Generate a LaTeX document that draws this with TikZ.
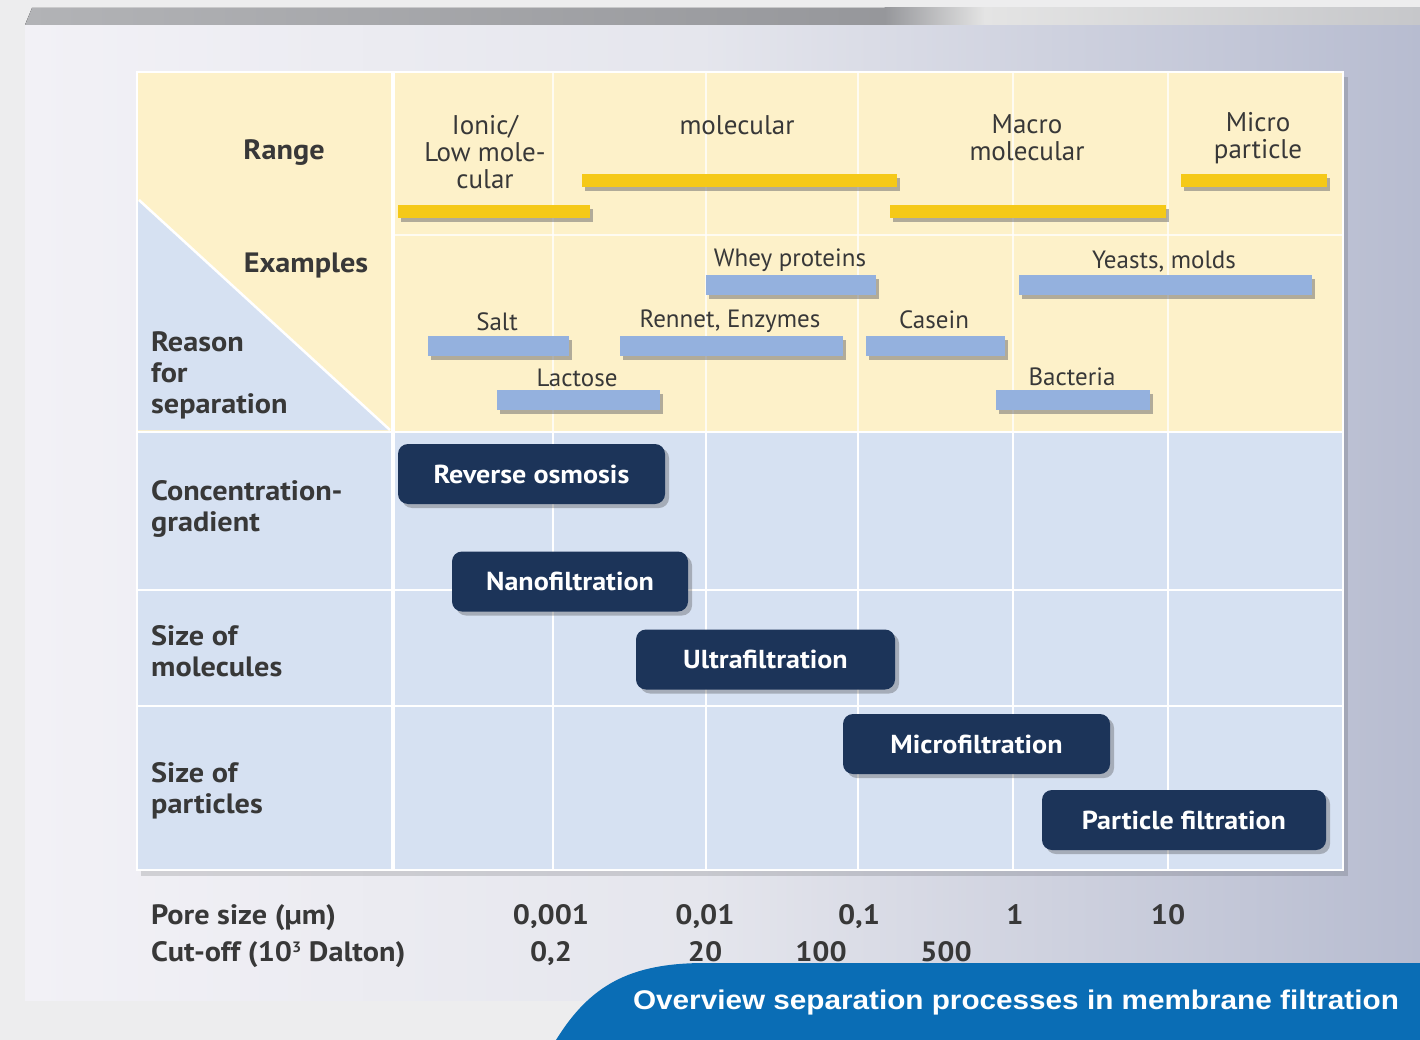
\documentclass[tikz,border=0pt]{standalone}
\usepackage{fontspec}
\setmainfont{PT Sans}
\newfontfamily\widefont[FakeStretch=1.08]{PT Sans}
\newfontfamily\bannerfont[FakeStretch=1.1]{Liberation Sans}
\usetikzlibrary{shadows}

\definecolor{bgout}{HTML}{EDEDEE}
\definecolor{panelL}{HTML}{F2F1F6}
\definecolor{panelM}{HTML}{E5E6ED}
\definecolor{panelR}{HTML}{B7BCD0}
\definecolor{topA}{HTML}{B2B3B6}
\definecolor{topB}{HTML}{96979B}
\definecolor{topC}{HTML}{E4E4E4}
\definecolor{topD}{HTML}{C6C7CA}
\definecolor{yel}{HTML}{FDF1C9}
\definecolor{blu}{HTML}{D6E1F2}
\definecolor{barY}{HTML}{F5C918}
\definecolor{barB}{HTML}{94B1DE}
\definecolor{proc}{HTML}{1C3459}
\definecolor{banner}{HTML}{0A6DB5}
\definecolor{txt}{HTML}{383838}

\tikzset{
  grid/.style={white, line width=2.5pt},
  faint/.style={white, line width=2pt, opacity=0.75},
  rangebar/.style={fill=barY, inner sep=0pt, minimum height=13pt,
    drop shadow={shadow xshift=3pt, shadow yshift=-4pt, opacity=0.55, fill=black!55}},
  examplebar/.style={fill=barB, inner sep=0pt, minimum height=20pt,
    drop shadow={shadow xshift=3pt, shadow yshift=-4pt, opacity=0.55, fill=black!55}},
  proc/.style={fill=proc, rounded corners=10pt, inner sep=0pt, minimum height=60pt,
    text=white, font=\widefont\fontsize{26}{30}\selectfont\bfseries,
    drop shadow={shadow xshift=4pt, shadow yshift=-4pt, opacity=0.35, fill=black!70}},
  rangelbl/.style={text=txt, align=center, inner sep=0pt,
    font=\fontsize{27}{27}\selectfont},
  exlbl/.style={text=txt, inner sep=0pt, font=\fontsize{25}{27}\selectfont},
  headlbl/.style={text=txt, inner sep=0pt, font=\widefont\fontsize{28}{31}\selectfont\bfseries},
  rowlbl/.style={text=txt, inner sep=0pt, anchor=west, align=left,
    font=\widefont\fontsize{28}{31}\selectfont\bfseries},
  axlbl/.style={text=txt, inner sep=0pt, anchor=base,
    font=\widefont\fontsize{28}{31}\selectfont\bfseries},
}

\begin{document}
\begin{tikzpicture}[x=1pt, y=-1pt]
\useasboundingbox (0,0) rectangle (1420,1040);

% page background and panel
\fill[bgout] (0,0) rectangle (1420,1040);
\fill[left color=panelL, right color=panelM] (25,25) rectangle (700,1000);
\fill[left color=panelM, right color=panelR] (699.5,25) rectangle (1420,1000);

% metallic top bar
\fill[left color=topA, right color=topB] (25,25) -- (32,8) -- (885,8) -- (885,25) -- cycle;
\fill[left color=topB, right color=topC] (884.5,8) rectangle (985,25);
\fill[left color=topC, right color=topD] (984.5,8) rectangle (1420,25);

% table body
\fill[black, opacity=0.13] (141,77) rectangle (1348,876);
\fill[yel] (137,72) rectangle (1343,432);
\fill[blu] (137,432) rectangle (1343,870);
\fill[blu] (137,200) -- (390,430) -- (137,430) -- cycle;
\draw[grid] (139,200) -- (390,430);

% grid lines
\foreach \x in {553,706,858,1013,1168} {
  \draw[faint] (\x,72) -- (\x,432);
  \draw[grid, line width=2pt] (\x,432) -- (\x,870);
}
\draw[grid, line width=3.5pt] (393,72) -- (393,870);
\draw[faint, line width=2.5pt] (393,235) -- (1343,235);
\foreach \y in {432,590,706} \draw[grid] (137,\y) -- (1343,\y);
\draw[white, line width=1.5pt] (137,72) rectangle (1343,870);

% header labels
\node[headlbl] (hRange) at (284,153) {Range};
\node[headlbl] (hExamples) at (306,266) {Examples};
\node[rowlbl] (hReason) at (151,375) {Reason\\for\\separation};
\node[rowlbl] (rConc) at (151,509) {Concentration-\\gradient};
\node[rowlbl] (rMol) at (151,651) {Size of\\molecules};
\node[rowlbl] (rPart) at (151,791) {Size of\\particles};

% ranges
\node[rangelbl] (lIonic) at (485,152) {Ionic/\\Low mole-\\cular};
\node[rangelbl] (lMolecular) at (737,125) {molecular};
\node[rangelbl] (lMacro) at (1027,138) {Macro\\molecular};
\node[rangelbl] (lMicro) at (1258,138) {Micro\\particle};
\node[rangebar, minimum width=192pt] (bIonic) at (494,211.5) {};
\node[rangebar, minimum width=315pt] (bMolecular) at (739.5,180.5) {};
\node[rangebar, minimum width=276pt] (bMacro) at (1028,211.5) {};
\node[rangebar, minimum width=146pt] (bMicro) at (1254,180.5) {};

% examples
\node[examplebar, minimum width=170pt] (bWhey) at (791,285) {};
\node[exlbl] (lWhey) at (790,260) {Whey proteins};
\node[examplebar, minimum width=293pt] (bYeast) at (1165.5,285) {};
\node[exlbl] (lYeast) at (1164,262) {Yeasts, molds};
\node[examplebar, minimum width=141pt] (bSalt) at (498.5,346) {};
\node[exlbl] (lSalt) at (497,322) {Salt};
\node[examplebar, minimum width=223pt] (bRennet) at (731.5,346) {};
\node[exlbl] (lRennet) at (730,321) {Rennet, Enzymes};
\node[examplebar, minimum width=139pt] (bCasein) at (935.5,346) {};
\node[exlbl] (lCasein) at (934,320) {Casein};
\node[examplebar, minimum width=163pt] (bLactose) at (578.5,400) {};
\node[exlbl] (lLactose) at (577,378) {Lactose};
\node[examplebar, minimum width=154pt] (bBacteria) at (1073,400) {};
\node[exlbl] (lBacteria) at (1072,377) {Bacteria};

% separation processes
\node[proc, minimum width=267pt] (pRO) at (531.5,474) {Reverse osmosis};
\node[proc, minimum width=236pt] (pNF) at (570,581.5) {Nanofiltration};
\node[proc, minimum width=259pt] (pUF) at (765.5,659.5) {Ultrafiltration};
\node[proc, minimum width=267pt] (pMF) at (976.5,744) {Microfiltration};
\node[proc, minimum width=284pt] (pPF) at (1184,820) {Particle filtration};

% scales
\node[axlbl, anchor=base west] (aPore) at (151,924) {Pore size (µm)};
\node[axlbl, anchor=base west] (aCut) at (151,961)
  {Cut-off (10{\fontsize{15}{15}\selectfont\raisebox{9pt}{3}} Dalton)};
\node[axlbl] (p1) at (551,924) {0,001};
\node[axlbl] (p2) at (705,924) {0,01};
\node[axlbl] (p3) at (859,924) {0,1};
\node[axlbl] (p4) at (1015,924) {1};
\node[axlbl] (p5) at (1168,924) {10};
\node[axlbl] (c1) at (551,961) {0,2};
\node[axlbl] (c2) at (705,961) {20};
\node[axlbl] (c3) at (821,961) {100};
\node[axlbl] (c4) at (946,961) {500};

% title banner
\fill[banner] (556,1040) .. controls (590,985) and (630,963) .. (705,963)
  -- (1420,963) -- (1420,1040) -- cycle;
\node[text=white, inner sep=0pt, font=\bannerfont\fontsize{27}{30}\selectfont\bfseries]
  (title) at (1016,1003) {Overview separation processes in membrane filtration};
\end{tikzpicture}
\end{document}
